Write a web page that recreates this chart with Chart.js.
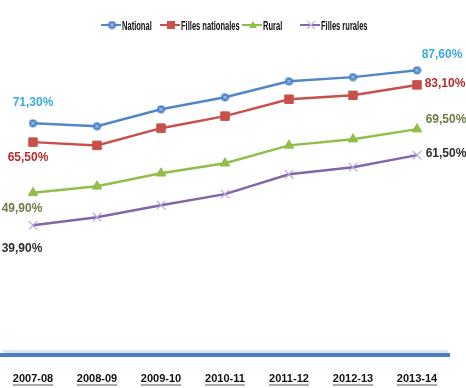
<!DOCTYPE html>
<html>
<head>
<meta charset="utf-8">
<script src="https://cdn.jsdelivr.net/npm/chart.js@4.4.0/dist/chart.umd.min.js"></script>
<style>
  html, body { margin: 0; padding: 0; background: #fff; }
  #wrap { width: 466px; height: 388px; position: relative; }
</style>
</head>
<body>
<div id="wrap"><canvas id="chart"></canvas></div>
<script>
// Data
const years = ['2007-08', '2008-09', '2009-10', '2010-11', '2011-12', '2012-13', '2013-14'];
const national = [71.3, 70.4, 75.6, 79.3, 84.2, 85.5, 87.6];
const fillesNationales = [65.5, 64.5, 69.8, 73.5, 78.7, 79.9, 83.1];
const rural = [49.9, 51.9, 55.9, 59.0, 64.5, 66.4, 69.5];
const fillesRurales = [39.9, 42.4, 46.1, 49.5, 55.6, 57.8, 61.5];
const seriesNames = ['National', 'Filles nationales', 'Rural', 'Filles rurales'];

const lineColors = ['#5286c6', '#c8504b', '#93bd4a', '#8265ab'];
const labelColors = ['#3aaade', '#b52c2e', '#6b7c45', '#2e2e2e'];
const tickFont = "bold 11px 'Liberation Sans', Arial, sans-serif";

// Circle marker with a small x inside (National)
function circleX() {
    const c = document.createElement('canvas');
    c.width = 9; c.height = 9;
    const g = c.getContext('2d');
    g.fillStyle = '#4a84c8';
    g.beginPath(); g.arc(4.5, 4.5, 4, 0, Math.PI * 2); g.fill();
    g.strokeStyle = '#cfe4f7'; g.lineWidth = 1;
    g.beginPath(); g.moveTo(2.8, 2.8); g.lineTo(6.2, 6.2); g.moveTo(6.2, 2.8); g.lineTo(2.8, 6.2); g.stroke();
    return c;
}

const markers = [circleX(), 'rect', 'triangle', 'crossRot'];
const markerSizes = [4, 6, 5.5, 6];

// Labels on first and last points: [dx, dy] offsets for each series
const firstOffsets = [[0, -21], [-5, 16], [-11, 16], [-11, 23]];
const lastOffsets = [[25, -16], [28, -1], [29, -9], [29, -1]];

function fmt(v) {
    return v.toFixed(2).replace('.', ',') + '%';
}

const endLabels = {
    id: 'endLabels',
    afterDatasetsDraw(chart) {
        const ctx = chart.ctx;
        ctx.save();
        ctx.font = "bold 12px 'Liberation Sans', Arial, sans-serif";
        ctx.textAlign = 'center';
        ctx.textBaseline = 'middle';
        chart.data.datasets.forEach((ds, i) => {
            const pts = chart.getDatasetMeta(i).data;
            const first = pts[0], last = pts[pts.length - 1];
            ctx.fillStyle = labelColors[i];
            ctx.fillText(fmt(ds.data[0]), first.x + firstOffsets[i][0], first.y + firstOffsets[i][1]);
            ctx.fillText(fmt(ds.data[ds.data.length - 1]), last.x + lastOffsets[i][0], last.y + lastOffsets[i][1]);
        });
        ctx.restore();
    }
};

// Soft shading around the axis line and grey bars under the year labels
const axisShade = {
    id: 'axisShade',
    beforeDraw(chart) {
        const ctx = chart.ctx, area = chart.chartArea, xs = chart.scales.x;
        ctx.save();
        ctx.fillStyle = 'rgba(120,150,200,0.25)';
        ctx.fillRect(area.left + 2, area.bottom - 5, area.right - area.left - 3, 3);
        ctx.font = tickFont;
        ctx.fillStyle = '#a9a9a9';
        years.forEach((y, i) => {
            const w = ctx.measureText(y).width;
            ctx.fillRect(xs.getPixelForTick(i) - w / 2, 384, w, 2);
        });
        ctx.restore();
    }
};

// Legend drawn by hand so the narrow lettering of the original can be imitated
const legendStarts = [101, 160, 242, 300];
const narrowLegend = {
    id: 'narrowLegend',
    afterDraw(chart) {
        const ctx = chart.ctx;
        const y = 25;
        ctx.save();
        chart.data.datasets.forEach((ds, i) => {
            const x0 = legendStarts[i];
            const col = lineColors[i];
            ctx.strokeStyle = col; ctx.fillStyle = col; ctx.lineWidth = 2;
            ctx.beginPath(); ctx.moveTo(x0, y); ctx.lineTo(x0 + 20, y); ctx.stroke();
            const mx = x0 + 11;
            if (i === 0) {
                ctx.drawImage(markers[0], mx - 4.5, y - 4.5);
            } else if (i === 1) {
                ctx.fillRect(mx - 4, y - 4, 8, 8);
            } else if (i === 2) {
                ctx.beginPath(); ctx.moveTo(mx, y - 4); ctx.lineTo(mx + 4, y + 3); ctx.lineTo(mx - 4, y + 3); ctx.closePath(); ctx.fill();
            } else {
                ctx.strokeStyle = '#c9b8e0'; ctx.lineWidth = 1.2;
                ctx.beginPath(); ctx.moveTo(mx - 4, y - 4); ctx.lineTo(mx + 4, y + 4);
                ctx.moveTo(mx + 4, y - 4); ctx.lineTo(mx - 4, y + 4); ctx.stroke();
            }
            ctx.save();
            ctx.translate(x0 + 21, y);
            ctx.scale(0.58, 1);
            ctx.font = "bold 13px 'Liberation Sans', Arial, sans-serif";
            ctx.fillStyle = '#111';
            ctx.textAlign = 'left';
            ctx.textBaseline = 'middle';
            ctx.fillText(ds.label, 0, 1);
            ctx.restore();
        });
        ctx.restore();
    }
};

const seriesData = [national, fillesNationales, rural, fillesRurales];

new Chart(document.getElementById('chart'), {
    type: 'line',
    data: {
        labels: years,
        datasets: seriesData.map((d, i) => ({
            label: seriesNames[i],
            data: d,
            borderColor: lineColors[i],
            backgroundColor: lineColors[i],
            borderWidth: 2.5,
            pointStyle: markers[i],
            pointRadius: markerSizes[i],
            pointBorderWidth: i === 3 ? 1.2 : 1,
            pointBorderColor: i === 3 ? '#b7a3d6' : lineColors[i],
            pointBackgroundColor: lineColors[i],
            tension: 0
        }))
    },
    options: {
        responsive: true,
        maintainAspectRatio: false,
        animation: false,
        layout: { autoPadding: false, padding: { left: 1, right: 17, top: 43, bottom: 0 } },
        plugins: {
            legend: { display: false },
            tooltip: { enabled: false }
        },
        scales: {
            x: {
                offset: true,
                grid: { display: false, drawTicks: false },
                border: { display: true, color: '#4d7ebd', width: 4 },
                ticks: {
                    font: { family: "'Liberation Sans', Arial, sans-serif", size: 11, weight: 'bold' },
                    color: '#111',
                    padding: 17
                },
                afterFit(scale) {
                    scale.height = 33;
                    scale.paddingLeft = 0;
                    scale.paddingRight = 0;
                }
            },
            y: {
                display: false,
                min: 0,
                max: 96
            }
        }
    },
    plugins: [axisShade, endLabels, narrowLegend]
});
</script>
</body>
</html>
